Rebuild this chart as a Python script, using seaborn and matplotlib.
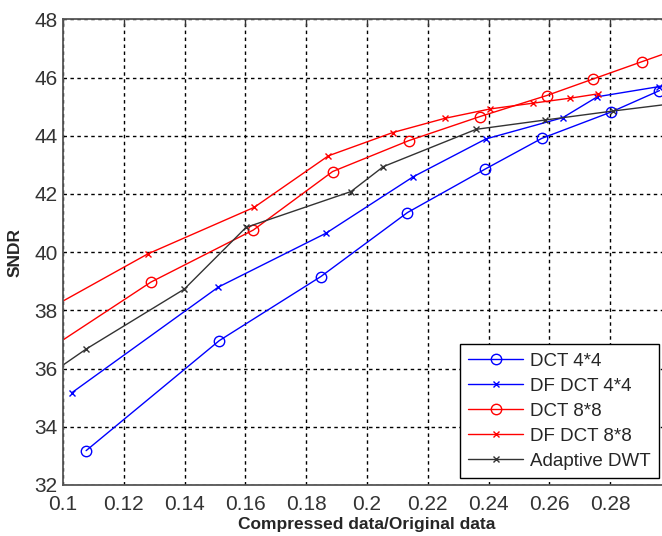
import matplotlib
matplotlib.use("Agg")
import matplotlib.pyplot as plt
import seaborn as sns
import pandas as pd
from matplotlib.lines import Line2D
from matplotlib import font_manager

# ---- data ----
dct44_x = [0.1076, 0.1514, 0.1848, 0.2133, 0.2388, 0.2575, 0.2802, 0.2962]
dct44_y = [33.18, 36.96, 39.16, 41.36, 42.85, 43.91, 44.81, 45.55]

dfdct44_x = [0.1029, 0.1511, 0.1865, 0.2152, 0.2391, 0.2644, 0.2758, 0.2962]
dfdct44_y = [35.17, 38.80, 40.65, 42.59, 43.89, 44.62, 45.34, 45.69]

dct88_x = [0.095, 0.1289, 0.1626, 0.1887, 0.2137, 0.2372, 0.2591, 0.2744, 0.2906, 0.302]
dct88_y = [36.64, 38.97, 40.76, 42.77, 43.83, 44.66, 45.38, 45.95, 46.55, 46.97]

dfdct88_x = [0.095, 0.1279, 0.1629, 0.1873, 0.2085, 0.2257, 0.2405, 0.2547, 0.2668, 0.2761]
dfdct88_y = [38.03, 39.94, 41.54, 43.31, 44.11, 44.60, 44.92, 45.12, 45.29, 45.44]

adwt_x = [0.095, 0.1076, 0.1399, 0.1602, 0.1947, 0.2054, 0.2359, 0.2586, 0.2810, 0.302]
adwt_y = [35.76, 36.67, 38.73, 40.85, 42.08, 42.94, 44.22, 44.54, 44.85, 45.12]

series_names = ["DCT 4*4", "DF DCT 4*4", "DCT 8*8", "DF DCT 8*8", "Adaptive DWT"]
xticks = [0.1, 0.12, 0.14, 0.16, 0.18, 0.2, 0.22, 0.24, 0.26, 0.28, 0.3]
xtick_labels = ["0.1", "0.12", "0.14", "0.16", "0.18", "0.2", "0.22", "0.24", "0.26", "0.28", ""]
yticks = [32, 34, 36, 38, 40, 42, 44, 46, 48]

sns.set_style("white")
installed = {f.name for f in font_manager.fontManager.ttflist}
narrow = "Liberation Sans Narrow" if "Liberation Sans Narrow" in installed else "Liberation Sans"
plt.rcParams["font.family"] = [narrow, "DejaVu Sans"]

fig = plt.figure(figsize=(6.62, 5.36), dpi=100)
ax = fig.add_axes([63 / 662, 1 - 485 / 536, 608 / 662, 465.7 / 536])

styles = [
    dict(color="#0000ff", marker="o", markersize=7.5, markerfacecolor="none", markeredgewidth=1.0),
    dict(color="#0000ff", marker="x", markersize=5, markeredgewidth=1.0),
    dict(color="#ff0000", marker="o", markersize=7.5, markerfacecolor="none", markeredgewidth=1.0),
    dict(color="#ff0000", marker="x", markersize=5, markeredgewidth=1.0),
    dict(color="#333333", marker="x", markersize=5, markeredgewidth=1.0),
]
data = [(dct44_x, dct44_y), (dfdct44_x, dfdct44_y), (dct88_x, dct88_y),
        (dfdct88_x, dfdct88_y), (adwt_x, adwt_y)]

handles = []
for name, (xs, ys), st in zip(series_names, data, styles):
    df = pd.DataFrame({"x": xs, "y": ys})
    sns.lineplot(data=df, x="x", y="y", ax=ax, sort=False, estimator=None,
                 linewidth=1.0, markeredgecolor=st["color"], **st)
    handles.append(Line2D([], [], linewidth=1.0, markeredgecolor=st["color"], **st))

ax.set_xlim(0.1, 0.3)
ax.set_ylim(32, 48)
ax.set_xticks(xticks)
ax.set_xticklabels(xtick_labels)
ax.set_yticks(yticks)
ax.grid(True, color="black", linestyle=(0, (2.5, 2.5)), linewidth=1.0)
ax.tick_params(axis="both", direction="in", length=5, width=1, labelsize=15,
               colors="#333333", top=True, right=True, pad=4)
ax.tick_params(axis="x", pad=7)
for s in ax.spines.values():
    s.set_color("#555555")
    s.set_linewidth(1.3)

ax.set_xlabel("Compressed data/Original data", fontsize=12.5, fontweight="bold", labelpad=2)
ax.set_ylabel("SNDR", fontsize=12.5, fontweight="bold", labelpad=8)

leg = ax.legend(handles=handles, labels=series_names, loc="lower right",
                bbox_to_anchor=(0.995, 1 - 478 / 536), bbox_transform=fig.transFigure,
                borderaxespad=0, fancybox=False, framealpha=1, edgecolor="black",
                fontsize=13.5, handlelength=2.9, numpoints=1, labelspacing=0.42,
                handletextpad=0.37, borderpad=0.45)
leg.get_frame().set_linewidth(1.0)

fig.savefig("out.png", dpi=100)
